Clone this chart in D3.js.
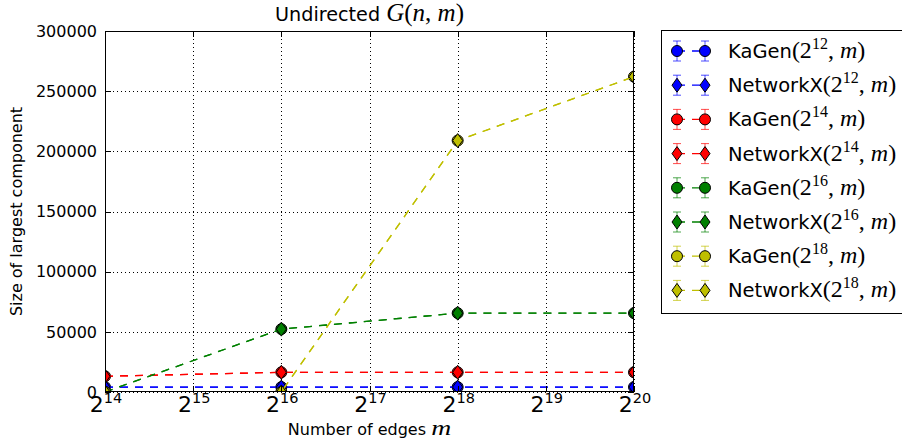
<!DOCTYPE html>
<html>
<head>
<meta charset="utf-8">
<script src="https://cdn.jsdelivr.net/npm/d3@7/dist/d3.min.js"></script>
<style>
  html, body { margin: 0; padding: 0; background: #fff; }
  svg { display: block; }
  text { fill: #000; }
</style>
</head>
<body>
<svg id="chart" width="902" height="446"></svg>
<script>
// Number of edges m, as powers of two
const edgeExponents = [14, 16, 18, 20];
const xTickExponents = [14, 15, 16, 17, 18, 19, 20];
const yTicks = [0, 50000, 100000, 150000, 200000, 250000, 300000];

// Vertex counts n, as powers of two
const vertexExponents = [12, 14, 16, 18];
const seriesColors = ["#0000ff", "#ff0000", "#008000", "#bfbf00"];

// Size of largest component (mean) and its standard deviation
const kagen12 = [4094, 4096, 4096, 4096];
const networkx12 = [4093, 4096, 4096, 4096];
const kagen14 = [13060, 16378, 16384, 16384];
const networkx14 = [13070, 16377, 16384, 16384];
const kagen16 = [38, 52250, 65514, 65536];
const networkx16 = [36, 52240, 65513, 65536];
const kagen18 = [14, 44, 208950, 262060];
const networkx18 = [13, 45, 208930, 262060];

const kagen12Err = [3, 0, 0, 0];
const networkx12Err = [4, 0, 0, 0];
const kagen14Err = [110, 20, 0, 0];
const networkx14Err = [120, 22, 0, 0];
const kagen16Err = [8, 180, 15, 0];
const networkx16Err = [7, 190, 16, 0];
const kagen18Err = [3, 9, 400, 30];
const networkx18Err = [3, 9, 420, 28];

const series = [
  { gen: "KaGen", n: vertexExponents[0], values: kagen12, err: kagen12Err, marker: "o", color: seriesColors[0] },
  { gen: "NetworkX", n: vertexExponents[0], values: networkx12, err: networkx12Err, marker: "d", color: seriesColors[0] },
  { gen: "KaGen", n: vertexExponents[1], values: kagen14, err: kagen14Err, marker: "o", color: seriesColors[1] },
  { gen: "NetworkX", n: vertexExponents[1], values: networkx14, err: networkx14Err, marker: "d", color: seriesColors[1] },
  { gen: "KaGen", n: vertexExponents[2], values: kagen16, err: kagen16Err, marker: "o", color: seriesColors[2] },
  { gen: "NetworkX", n: vertexExponents[2], values: networkx16, err: networkx16Err, marker: "d", color: seriesColors[2] },
  { gen: "KaGen", n: vertexExponents[3], values: kagen18, err: kagen18Err, marker: "o", color: seriesColors[3] },
  { gen: "NetworkX", n: vertexExponents[3], values: networkx18, err: networkx18Err, marker: "d", color: seriesColors[3] }
];

const W = 902, H = 446;
const plot = { left: 105, right: 634, top: 31, bottom: 392 };
const SANS = "'DejaVu Sans', sans-serif";
const SERIF = "'Liberation Serif', 'DejaVu Serif', serif";

const svg = d3.select("#chart");

const x = d3.scaleLog().base(2)
  .domain([Math.pow(2, 14), Math.pow(2, 20)])
  .range([plot.left, plot.right]);
const y = d3.scaleLinear()
  .domain([0, 300000])
  .range([plot.bottom, plot.top]);

svg.append("defs").append("clipPath").attr("id", "plotClip")
  .append("rect")
  .attr("x", plot.left).attr("y", plot.top)
  .attr("width", plot.right - plot.left).attr("height", plot.bottom - plot.top);

// Dotted grid
const grid = svg.append("g");
xTickExponents.forEach(e => {
  const px = Math.round(x(Math.pow(2, e))) + 0.5;
  grid.append("line")
    .attr("x1", px).attr("x2", px).attr("y1", plot.top).attr("y2", plot.bottom)
    .attr("stroke", "#000").attr("stroke-width", 1).attr("stroke-dasharray", "1,3");
});
yTicks.forEach(v => {
  const py = Math.round(y(v)) + 0.5;
  grid.append("line")
    .attr("x1", plot.left).attr("x2", plot.right).attr("y1", py).attr("y2", py)
    .attr("stroke", "#000").attr("stroke-width", 1).attr("stroke-dasharray", "1,3");
});

// Marker shapes
function diamondPath(cx, cy, h, w) {
  return `M${cx},${cy - h / 2}L${cx + w / 2},${cy}L${cx},${cy + h / 2}L${cx - w / 2},${cy}Z`;
}
function drawMarker(g, s, cx, cy) {
  if (s.marker === "o") {
    g.append("circle").attr("cx", cx).attr("cy", cy).attr("r", 5.5)
      .attr("fill", s.color).attr("stroke", "#000").attr("stroke-width", 1);
  } else {
    g.append("path").attr("d", diamondPath(cx, cy, 14, 10))
      .attr("fill", s.color).attr("stroke", "#000").attr("stroke-width", 1);
  }
}
function drawErrorBar(g, s, cx, yLo, yHi) {
  g.append("line").attr("x1", cx).attr("x2", cx).attr("y1", yLo).attr("y2", yHi)
    .attr("stroke", s.color).attr("stroke-width", 1).attr("stroke-opacity", 0.7);
  [yLo, yHi].forEach(yy => {
    g.append("line").attr("x1", cx - 4).attr("x2", cx + 4).attr("y1", yy).attr("y2", yy)
      .attr("stroke", s.color).attr("stroke-width", 1).attr("stroke-opacity", 0.7);
  });
}

// Series: dashed line, error bars, markers
const marks = svg.append("g").attr("clip-path", "url(#plotClip)");
const line = d3.line()
  .x((d, i) => x(Math.pow(2, edgeExponents[i])))
  .y(d => y(d));

series.forEach(s => {
  const g = marks.append("g");
  g.append("path").datum(s.values)
    .attr("d", line)
    .attr("fill", "none").attr("stroke", s.color).attr("stroke-width", 1.3)
    .attr("stroke-dasharray", "8,7");
  s.values.forEach((v, i) => {
    const cx = x(Math.pow(2, edgeExponents[i]));
    drawErrorBar(g, s, cx, y(v - s.err[i]), y(v + s.err[i]));
  });
  s.values.forEach((v, i) => {
    drawMarker(g, s, x(Math.pow(2, edgeExponents[i])), y(v));
  });
});

// Frame
svg.append("rect")
  .attr("x", plot.left + 0.5).attr("y", plot.top + 0.5)
  .attr("width", plot.right - plot.left - 1).attr("height", plot.bottom - plot.top - 1)
  .attr("fill", "none").attr("stroke", "#000").attr("stroke-width", 1);

// Inward tick marks on all four sides
const ticks = svg.append("g").attr("stroke", "#000").attr("stroke-width", 1);
xTickExponents.forEach(e => {
  const px = Math.round(x(Math.pow(2, e))) + 0.5;
  ticks.append("line").attr("x1", px).attr("x2", px).attr("y1", plot.bottom).attr("y2", plot.bottom - 6);
  ticks.append("line").attr("x1", px).attr("x2", px).attr("y1", plot.top).attr("y2", plot.top + 6);
});
yTicks.forEach(v => {
  const py = Math.round(y(v)) + 0.5;
  ticks.append("line").attr("x1", plot.left).attr("x2", plot.left + 6).attr("y1", py).attr("y2", py);
  ticks.append("line").attr("x1", plot.right).attr("x2", plot.right - 6).attr("y1", py).attr("y2", py);
});

// Y tick labels
const yLabels = svg.append("g")
  .attr("font-family", SANS).attr("font-size", 16).attr("text-anchor", "end");
yTicks.forEach(v => {
  yLabels.append("text")
    .attr("x", plot.left - 8).attr("y", y(v)).attr("dy", "0.36em")
    .text(d3.format("d")(v));
});

// X tick labels: 2^k
const xLabels = svg.append("g").attr("font-family", SANS).attr("text-anchor", "middle");
xTickExponents.forEach(e => {
  const t = xLabels.append("text")
    .attr("x", x(Math.pow(2, e)) + 1).attr("y", 412).attr("font-size", 22);
  t.append("tspan").text("2");
  t.append("tspan").attr("font-size", 14.5).attr("dy", -9).text(String(e));
});

// Axis titles
const xTitle = svg.append("text")
  .attr("x", (plot.left + plot.right) / 2).attr("y", 435)
  .attr("text-anchor", "middle").attr("font-family", SANS).attr("font-size", 16);
xTitle.append("tspan").text("Number of edges ");
xTitle.append("tspan").attr("font-family", SERIF).attr("font-style", "italic").attr("font-size", 21)
  .attr("textLength", 20).attr("lengthAdjust", "spacingAndGlyphs").text("m");

svg.append("text")
  .attr("transform", `translate(22,${(plot.top + plot.bottom) / 2}) rotate(-90)`)
  .attr("text-anchor", "middle").attr("font-family", SANS).attr("font-size", 16)
  .text("Size of largest component");

// Title
const MT = 25;
const title = svg.append("text")
  .attr("x", (plot.left + plot.right) / 2).attr("y", 21)
  .attr("text-anchor", "middle").attr("font-family", SANS).attr("font-size", 19.2);
title.append("tspan").text("Undirected ");
title.append("tspan").attr("font-family", SERIF).attr("font-style", "italic").attr("font-size", MT).text("G");
title.append("tspan").attr("font-family", SERIF).attr("font-size", MT).text("(");
title.append("tspan").attr("font-family", SERIF).attr("font-style", "italic").attr("font-size", MT).text("n");
title.append("tspan").attr("font-family", SERIF).attr("font-size", MT).text(", ");
title.append("tspan").attr("font-family", SERIF).attr("font-style", "italic").attr("font-size", MT).text("m");
title.append("tspan").attr("font-family", SERIF).attr("font-size", MT).text(")");

// Legend
const legend = svg.append("g");
const lg = { left: 661, top: 30, bottom: 313, rowTop: 51, rowStep: 34.2 };
legend.append("rect")
  .attr("x", lg.left + 0.5).attr("y", lg.top + 0.5)
  .attr("width", W - lg.left + 10).attr("height", lg.bottom - lg.top)
  .attr("fill", "#fff").attr("stroke", "#000").attr("stroke-width", 1);

const ML = 24;
series.forEach((s, i) => {
  const cy = lg.rowTop + i * lg.rowStep;
  const g = legend.append("g");
  const x1 = 677, x2 = 705;
  g.append("line").attr("x1", x1).attr("x2", x2).attr("y1", cy).attr("y2", cy)
    .attr("stroke", s.color).attr("stroke-width", 1.3).attr("stroke-dasharray", "8,7");
  [x1, x2].forEach(cx => drawErrorBar(g, s, cx, cy + 10, cy - 10));
  [x1, x2].forEach(cx => drawMarker(g, s, cx, cy));

  const t = g.append("text").attr("x", 728).attr("y", cy + 7)
    .attr("font-family", SANS).attr("font-size", 19.5);
  t.append("tspan").text(s.gen);
  t.append("tspan").attr("font-family", SERIF).attr("font-size", ML).text("(2");
  t.append("tspan").attr("font-family", SERIF).attr("font-size", 16).attr("dy", -9).text(String(s.n));
  t.append("tspan").attr("font-family", SERIF).attr("font-size", ML).attr("dy", 9).text(", ");
  t.append("tspan").attr("font-family", SERIF).attr("font-style", "italic").attr("font-size", ML).text("m");
  t.append("tspan").attr("font-family", SERIF).attr("font-size", ML).text(")");
});
</script>
</body>
</html>
